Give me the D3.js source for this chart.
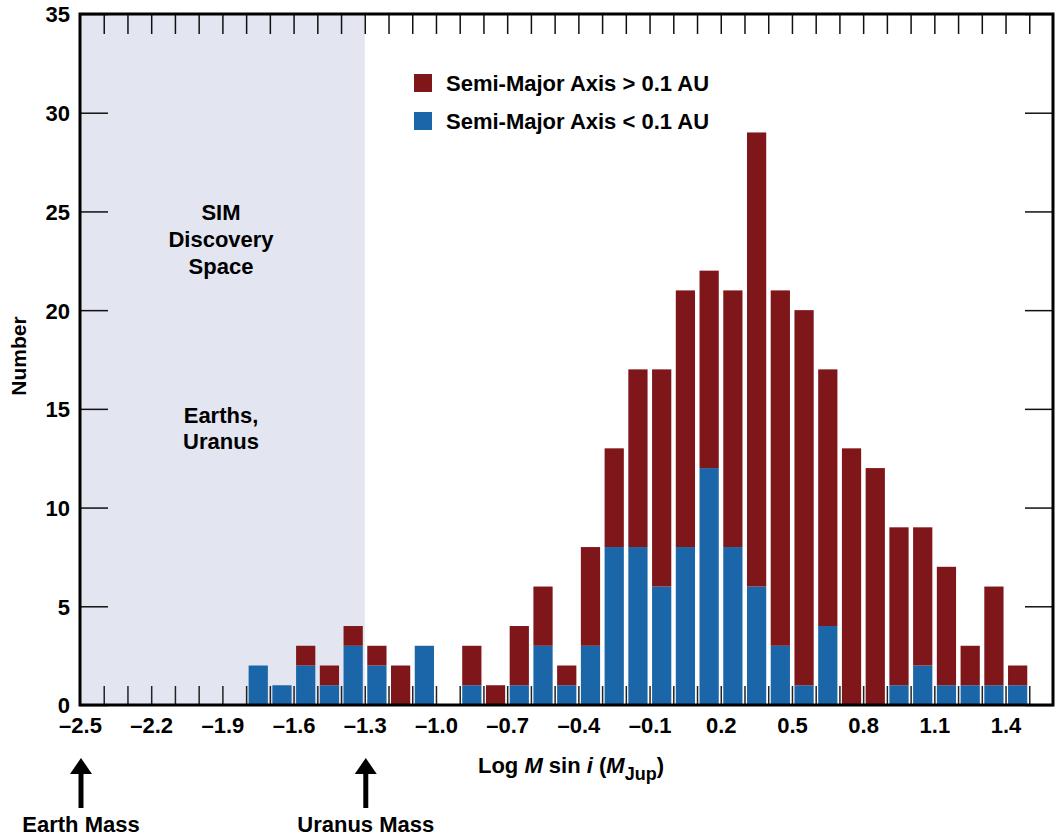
<!DOCTYPE html>
<html>
<head>
<meta charset="utf-8">
<script src="https://cdn.jsdelivr.net/npm/d3@7"></script>
<style>
  body { margin: 0; background: #fff; }
  svg text { font-family: "Liberation Sans", Arial, Helvetica, sans-serif; font-weight: bold; fill: #000; }
</style>
</head>
<body>
<div id="chart"></div>
<script>
// bin centres of log M sin i (bins are 0.1 wide)
var binCenters = [-1.75, -1.65, -1.55, -1.45, -1.35, -1.25, -1.15, -1.05, -0.95, -0.85,
                  -0.75, -0.65, -0.55, -0.45, -0.35, -0.25, -0.15, -0.05, 0.05, 0.15,
                   0.25, 0.35, 0.45, 0.55, 0.65, 0.75, 0.85, 0.95, 1.05, 1.15,
                   1.25, 1.35, 1.45];
// semi-major axis < 0.1 AU (blue, bottom of stack)
var innerCounts = [2, 1, 2, 1, 3, 2, 0, 3, 0, 1,
                   0, 1, 3, 1, 3, 8, 8, 6, 8, 12,
                   8, 6, 3, 1, 4, 0, 0, 1, 2, 1,
                   1, 1, 1];
// semi-major axis > 0.1 AU (red, on top)
var outerCounts = [0, 0, 1, 1, 1, 1, 2, 0, 0, 2,
                   1, 3, 3, 1, 5, 5, 9, 11, 13, 10,
                   13, 23, 18, 19, 13, 13, 12, 8, 7, 6,
                   2, 5, 1];
var xLabelTicks = [-2.5, -2.2, -1.9, -1.6, -1.3, -1.0, -0.7, -0.4, -0.1, 0.2, 0.5, 0.8, 1.1, 1.4];
var yTicks = [0, 5, 10, 15, 20, 25, 30, 35];
var seriesNames = ["Semi-Major Axis > 0.1 AU", "Semi-Major Axis < 0.1 AU"];
var seriesColors = ["#7e161a", "#1a66a8"];

var W = 1057, H = 833;
var pLeft = 80, pRight = 1053, pTop = 14, pBottom = 705;
var binW = 0.1;
var fs = "22px";

var svg = d3.select("#chart").append("svg")
    .attr("width", W)
    .attr("height", H);

var x = d3.scaleLinear().domain([-2.5, 1.6]).range([pLeft, pRight]);
var y = d3.scaleLinear().domain([0, 35]).range([pBottom, pTop]);

// SIM discovery space shading
svg.append("rect")
    .attr("x", x(-2.5))
    .attr("y", y(35))
    .attr("width", x(-1.3) - x(-2.5))
    .attr("height", y(0) - y(35))
    .attr("fill", "#e3e5f1");

// minor ticks every 0.1
var minorTicks = d3.range(-24, 16).map(function(d) { return d / 10; });

svg.append("g")
    .attr("transform", "translate(0," + pBottom + ")")
    .call(d3.axisBottom(x).tickValues(minorTicks).tickSize(-19).tickFormat(""))
    .call(function(g) { g.select(".domain").remove(); })
    .selectAll("line").attr("stroke", "#222").attr("stroke-width", 1.5);

svg.append("g")
    .attr("transform", "translate(0," + pTop + ")")
    .call(d3.axisTop(x).tickValues(minorTicks).tickSize(-20).tickFormat(""))
    .call(function(g) { g.select(".domain").remove(); })
    .selectAll("line").attr("stroke", "#111").attr("stroke-width", 1.5);

// stacked bars
var bars = svg.append("g");
binCenters.forEach(function(c, i) {
  var x0 = x(c - binW / 2) + 2.5, bw = x(c + binW / 2) - x(c - binW / 2) - 4.5;
  if (innerCounts[i] > 0) {
    bars.append("rect")
      .attr("x", x0).attr("width", bw)
      .attr("y", y(innerCounts[i]))
      .attr("height", y(0) - y(innerCounts[i]))
      .attr("fill", seriesColors[1]);
  }
  if (outerCounts[i] > 0) {
    var tot = innerCounts[i] + outerCounts[i];
    bars.append("rect")
      .attr("x", x0).attr("width", bw)
      .attr("y", y(tot))
      .attr("height", y(innerCounts[i]) - y(tot))
      .attr("fill", seriesColors[0]);
  }
});

// y axes (left with labels, right ticks only)
var yl = svg.append("g")
    .attr("transform", "translate(" + pLeft + ",0)")
    .call(d3.axisLeft(y).tickValues(yTicks).tickSize(-28).tickPadding(10));
yl.select(".domain").remove();
yl.selectAll("line").attr("stroke", "#111").attr("stroke-width", 1.5);
yl.selectAll("text").style("font-size", fs).attr("dy", "0.36em");

var yr = svg.append("g")
    .attr("transform", "translate(" + pRight + ",0)")
    .call(d3.axisRight(y).tickValues(yTicks).tickSize(-28).tickFormat(""));
yr.select(".domain").remove();
yr.selectAll("line").attr("stroke", "#111").attr("stroke-width", 1.5);

// x labels
var xl = svg.append("g")
    .attr("transform", "translate(0," + pBottom + ")")
    .call(d3.axisBottom(x).tickValues(xLabelTicks).tickSize(0).tickPadding(12)
      .tickFormat(function(d) { return d < 0 ? "\u2013" + d3.format(".1f")(-d) : d3.format(".1f")(d); }));
xl.select(".domain").remove();
xl.selectAll("text").style("font-size", fs);

// frame
svg.append("rect")
    .attr("x", pLeft).attr("y", pTop)
    .attr("width", pRight - pLeft).attr("height", pBottom - pTop)
    .attr("fill", "none").attr("stroke", "#000").attr("stroke-width", 3);

// axis titles
var xt = svg.append("text")
    .attr("x", 571).attr("y", 773)
    .attr("text-anchor", "middle")
    .style("font-size", fs);
xt.append("tspan").text("Log ");
xt.append("tspan").style("font-style", "italic").text("M");
xt.append("tspan").text(" sin ");
xt.append("tspan").style("font-style", "italic").text("i");
xt.append("tspan").text(" (");
xt.append("tspan").style("font-style", "italic").text("M");
xt.append("tspan").attr("dy", 7).style("font-size", "18px").text("Jup");
xt.append("tspan").attr("dy", -7).text(")");

svg.append("text")
    .attr("transform", "translate(26,356) rotate(-90)")
    .attr("text-anchor", "middle")
    .style("font-size", "21px")
    .text("Number");

// legend
seriesNames.forEach(function(name, i) {
  svg.append("rect")
    .attr("x", 414).attr("y", 74 + i * 38)
    .attr("width", 18).attr("height", 18)
    .attr("fill", seriesColors[i]);
  svg.append("text")
    .attr("x", 446).attr("y", 91 + i * 38)
    .style("font-size", fs)
    .text(name);
});

// shaded region notes
var notes = [["SIM", 220], ["Discovery", 247], ["Space", 274], ["Earths,", 423], ["Uranus", 449]];
notes.forEach(function(n) {
  svg.append("text")
    .attr("x", 221).attr("y", n[1])
    .attr("text-anchor", "middle")
    .style("font-size", fs)
    .text(n[0]);
});

// mass arrows
var arrows = [["Earth Mass", -2.5], ["Uranus Mass", -1.3]];
arrows.forEach(function(a) {
  var ax = x(a[1]) + 1;
  svg.append("line")
    .attr("x1", ax).attr("x2", ax)
    .attr("y1", 770).attr("y2", 808)
    .attr("stroke", "#000").attr("stroke-width", 5);
  svg.append("path")
    .attr("d", "M" + (ax - 11) + ",774L" + ax + ",758L" + (ax + 11) + ",774Z")
    .attr("fill", "#000");
  svg.append("text")
    .attr("x", ax).attr("y", 832)
    .attr("text-anchor", "middle")
    .style("font-size", fs)
    .text(a[0]);
});
</script>
</body>
</html>
